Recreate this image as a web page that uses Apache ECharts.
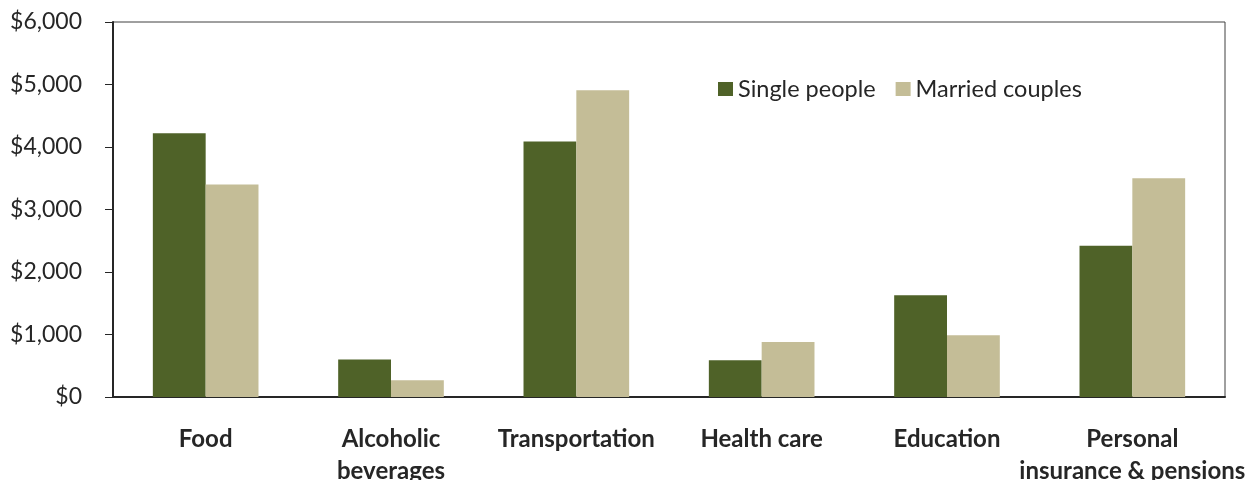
<!DOCTYPE html>
<html>
<head>
<meta charset="utf-8">
<script src="https://cdn.jsdelivr.net/npm/echarts@6/dist/echarts.min.js"></script>
<style>
  html, body { margin: 0; padding: 0; background: #fff; }
  #chart { width: 1248px; height: 480px; }
</style>
</head>
<body>
<div id="chart"></div>
<script>
const categories = ["Food", "Alcoholic\nbeverages", "Transportation", "Health care", "Education", "Personal\ninsurance & pensions"];
const singlePeople = [4220, 600, 4090, 590, 1630, 2420];
const marriedCouples = [3400, 270, 4910, 880, 990, 3500];

const fontFamily = "Lato, 'Liberation Sans', sans-serif";

const chart = echarts.init(document.getElementById("chart"));

chart.setOption({
  animation: false,
  textStyle: { fontFamily: fontFamily },
  grid: {
    left: 113,
    right: 23,
    top: 22,
    bottom: 83,
    outerBoundsMode: "none",
    containLabel: false,
    show: true,
    borderColor: "#404040",
    borderWidth: 1
  },
  legend: {
    left: 713,
    top: 72,
    itemWidth: 15,
    itemHeight: 14,
    itemGap: 20,
    icon: "rect",
    textStyle: { fontSize: 23.5, color: "#262626", fontFamily: fontFamily },
    data: ["Single people", "Married couples"]
  },
  xAxis: {
    type: "category",
    data: categories,
    axisLine: { lineStyle: { color: "#262626", width: 2 } },
    axisTick: { show: false },
    axisLabel: {
      interval: 0,
      margin: 26,
      fontSize: 24,
      fontWeight: "bold",
      lineHeight: 32,
      color: "#262626",
      fontFamily: fontFamily
    }
  },
  yAxis: {
    type: "value",
    min: 0,
    max: 6000,
    interval: 1000,
    axisLine: { show: true, lineStyle: { color: "#262626", width: 2 } },
    axisTick: { show: true, length: 8, lineStyle: { color: "#262626", width: 1 } },
    splitLine: { show: false },
    axisLabel: {
      margin: 31,
      fontSize: 23,
      color: "#262626",
      fontFamily: fontFamily,
      formatter: function (v) { return "$" + v.toLocaleString("en-US"); }
    }
  },
  series: [
    {
      name: "Single people",
      type: "bar",
      data: singlePeople,
      barGap: "0%",
      barCategoryGap: "43%",
      itemStyle: { color: "#4F6228" }
    },
    {
      name: "Married couples",
      type: "bar",
      data: marriedCouples,
      itemStyle: { color: "#C4BD97" }
    }
  ]
});
</script>
</body>
</html>
